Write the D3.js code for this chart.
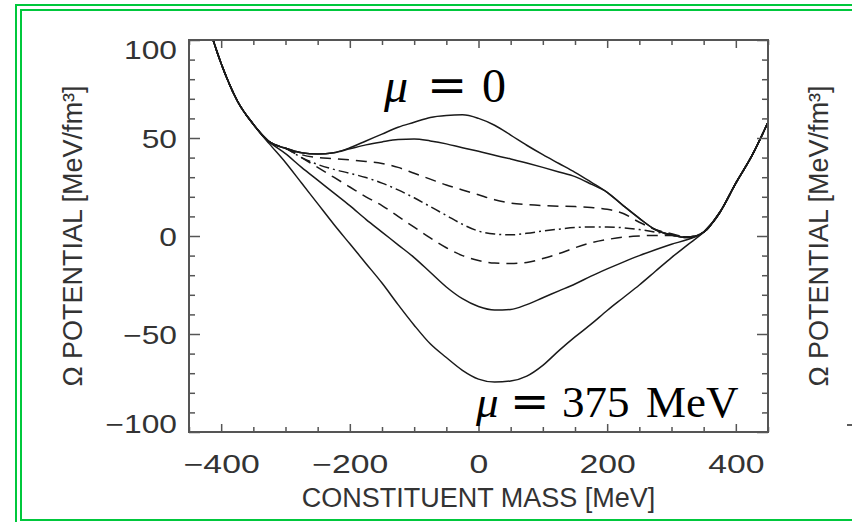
<!DOCTYPE html>
<html>
<head>
<meta charset="utf-8">
<script src="https://cdn.jsdelivr.net/npm/d3@7"></script>
<style>
  html, body { margin: 0; padding: 0; background: #fff; }
  svg { display: block; }
</style>
</head>
<body>
<svg id="chart" width="852" height="522"></svg>
<script>
// Constituent mass grid [MeV]
const mass = [-425, -400, -375, -350, -325, -300, -275, -250, -225, -200, -175, -150,
              -125, -100, -75, -50, -25, 0, 25, 50, 75, 100, 125, 150,
              175, 200, 225, 250, 275, 300, 325, 350, 375, 400, 425, 450];

// Omega potential [MeV/fm^3], one array per chemical potential (mu = 0 ... 375 MeV)
const omegaMu0 = [113, 88, 69, 57, 48, 44.8, 42.5, 41.8, 42.5, 45, 48.5, 52,
                  55.5, 58, 60.5, 61.5, 61.8, 60, 56.5, 51.5, 46.3, 41.5, 37, 32.5,
                  27.5, 22.3, 15.5, 9, 3.2, 0.5, -0.8, 2, 12, 27, 41, 58];
const omegaMu1 = [113, 88, 69, 57, 48, 44.8, 42.5, 41.8, 42.5, 44.5, 46.5, 48,
                  49.2, 49.5, 48.5, 47, 45, 43.2, 41.2, 39.3, 37.2, 35, 32.7, 30.3,
                  26.5, 22.3, 15.5, 9, 3.2, 0.5, -0.8, 2, 12, 27, 41, 58];
const omegaMu2 = [113, 88, 69, 57, 48, 44.8, 41.5, 40, 39.5, 38.8, 38, 37,
                  35, 32, 29, 26, 23.5, 21, 18.5, 16.8, 16, 15.5, 15.2, 15,
                  14.5, 13.6, 11.5, 7, 3.3, 1.2, -0.5, 2, 12, 27, 41, 58];
const omegaMu3 = [113, 88, 69, 57, 48, 44.8, 40, 36.5, 34, 32, 29.8, 27,
                  23.5, 19.5, 15, 10.5, 6, 2.5, 1, 0.6, 1.4, 2.5, 3.5, 4.3,
                  4.6, 4.6, 4.2, 3.3, 2, 0.8, -0.5, 2, 12, 27, 41, 58];
const omegaMu4 = [113, 88, 69, 57, 48, 44.8, 40, 35, 30, 25, 20, 15.5,
                  10, 4.5, -1, -6, -10, -12.5, -13.8, -14, -13.5, -11.5, -9, -6,
                  -3.5, -1.8, -0.6, 0, 0.3, 0.2, -0.5, 2, 12, 27, 41, 58];
const omegaMu5 = [113, 88, 69, 57, 48, 42, 35, 28.5, 22, 15.5, 8.5, 2,
                  -4.5, -11, -18.5, -26, -32, -36, -37.8, -37.5, -35, -31.5, -28, -24.5,
                  -20.5, -16.8, -13.3, -10, -7, -4.2, -1.8, 2, 12, 27, 41, 58];
const omegaMu375 = [113, 88, 69, 57, 47, 37.5, 27, 16.5, 6, -4, -14, -24,
                    -35, -45.5, -55, -62, -68.5, -73, -74.5, -74, -71.5, -66, -58.5, -51.5,
                    -45, -38, -31.5, -25, -18, -11, -4.5, 2, 12, 27, 41, 58];

// Axis ticks
const massTicks = [-400, -200, 0, 200, 400];
const massMinorStep = 50;
const potentialTicks = [-100, -50, 0, 50, 100];
const potentialMinorStep = 10;

const massDomain = [-450, 450];
const potentialDomain = [-100, 100];

const series = [
  { values: omegaMu0,   dash: null },
  { values: omegaMu1,   dash: null },
  { values: omegaMu2,   dash: "11,7" },
  { values: omegaMu3,   dash: "10,4,2,4" },
  { values: omegaMu4,   dash: "11,7" },
  { values: omegaMu5,   dash: null },
  { values: omegaMu375, dash: null }
];

const svg = d3.select("#chart");

// double green frame
const green = "#00c83c";
svg.append("rect").attr("x", 16).attr("y", 5).attr("width", 900).attr("height", 530)
  .attr("fill", "none").attr("stroke", green).attr("stroke-width", 2);
svg.append("rect").attr("x", 21).attr("y", 10).attr("width", 900).attr("height", 510)
  .attr("fill", "none").attr("stroke", green).attr("stroke-width", 2);

const plot = { left: 189, right: 768, top: 40, bottom: 432 };
const x = d3.scaleLinear().domain(massDomain).range([plot.left, plot.right]);
const y = d3.scaleLinear().domain(potentialDomain).range([plot.bottom, plot.top]);

const axisColor = "#555";
const textColor = "#333";

// clip for curves
svg.append("defs").append("clipPath").attr("id", "plotClip")
  .append("rect")
  .attr("x", plot.left).attr("y", plot.top)
  .attr("width", plot.right - plot.left).attr("height", plot.bottom - plot.top);

// curves
const line = d3.line()
  .x((d, i) => x(mass[i]))
  .y(d => y(d))
  .curve(d3.curveMonotoneX);

const curves = svg.append("g").attr("clip-path", "url(#plotClip)");
series.forEach(s => {
  curves.append("path")
    .attr("d", line(s.values))
    .attr("fill", "none")
    .attr("stroke", "#1a1a1a")
    .attr("stroke-width", 1.5)
    .attr("stroke-dasharray", s.dash);
});

// minor / major tick helpers (ticks point inward on all four sides)
function minorValues(domain, step, majors) {
  const out = [];
  for (let v = Math.ceil(domain[0] / step) * step; v <= domain[1]; v += step) {
    if (!majors.includes(v)) out.push(v);
  }
  return out;
}
const massMinor = minorValues(massDomain, massMinorStep, massTicks);
const potMinor = minorValues(potentialDomain, potentialMinorStep, potentialTicks);

function drawTicks(axisFn, scale, values, size, transform) {
  const g = svg.append("g").attr("transform", transform)
    .call(axisFn(scale).tickValues(values).tickSize(-size).tickFormat(""));
  g.select(".domain").remove();
  g.selectAll(".tick line").attr("stroke", axisColor).attr("stroke-width", 1.5);
  return g;
}
drawTicks(d3.axisBottom, x, massTicks, 8, `translate(0,${plot.bottom})`);
drawTicks(d3.axisBottom, x, massMinor, 5, `translate(0,${plot.bottom})`);
drawTicks(d3.axisTop, x, massTicks, 8, `translate(0,${plot.top})`);
drawTicks(d3.axisTop, x, massMinor, 5, `translate(0,${plot.top})`);
drawTicks(d3.axisLeft, y, potentialTicks, 11, `translate(${plot.left},0)`);
drawTicks(d3.axisLeft, y, potMinor, 6, `translate(${plot.left},0)`);
drawTicks(d3.axisRight, y, potentialTicks, 11, `translate(${plot.right},0)`);
drawTicks(d3.axisRight, y, potMinor, 6, `translate(${plot.right},0)`);

// frame
svg.append("rect")
  .attr("x", plot.left).attr("y", plot.top)
  .attr("width", plot.right - plot.left).attr("height", plot.bottom - plot.top)
  .attr("fill", "none").attr("stroke", axisColor).attr("stroke-width", 2);

// tick labels (wide vector-style digits)
const fmt = d3.format("d");
const labelFont = "'Liberation Sans', Arial, sans-serif";

const xLab = svg.append("g").attr("transform", `translate(0,${plot.bottom})`)
  .call(d3.axisBottom(x).tickValues(massTicks).tickSize(0).tickFormat(fmt));
xLab.select(".domain").remove();
xLab.selectAll(".tick text")
  .attr("font-family", labelFont).attr("font-size", 25).attr("fill", textColor)
  .attr("x", 0).attr("y", 0).attr("dy", null)
  .attr("text-anchor", "middle")
  .attr("transform", "translate(0,41) scale(1.35,1)");

const yLab = svg.append("g").attr("transform", `translate(${plot.left},0)`)
  .call(d3.axisLeft(y).tickValues(potentialTicks).tickSize(0).tickFormat(fmt));
yLab.select(".domain").remove();
yLab.selectAll(".tick text")
  .attr("font-family", labelFont).attr("font-size", 25).attr("fill", textColor)
  .attr("x", 0).attr("y", 0).attr("dy", null)
  .attr("text-anchor", "end")
  .attr("transform", d => {
    const shift = d === potentialDomain[1] ? 9 : d === potentialDomain[0] ? -9 : 0;
    return `translate(-12,${shift + 9}) scale(1.27,1)`;
  });

// axis titles
const yTitle = "Ω POTENTIAL [MeV/fm³]";
svg.append("text")
  .attr("transform", `translate(82,${(plot.top + plot.bottom) / 2}) rotate(-90)`)
  .attr("text-anchor", "middle")
  .attr("font-family", labelFont).attr("font-size", 27).attr("fill", textColor)
  .text(yTitle);
svg.append("text")
  .attr("transform", `translate(828,${(plot.top + plot.bottom) / 2}) rotate(-90)`)
  .attr("text-anchor", "middle")
  .attr("font-family", labelFont).attr("font-size", 27).attr("fill", textColor)
  .text(yTitle);
svg.append("text")
  .attr("x", (plot.left + plot.right) / 2).attr("y", 507)
  .attr("text-anchor", "middle")
  .attr("font-family", labelFont).attr("font-size", 27).attr("fill", textColor)
  .text("CONSTITUENT MASS [MeV]");

// edge of the neighbouring panel's minus sign
svg.append("line")
  .attr("x1", 847).attr("x2", 852).attr("y1", 425).attr("y2", 425)
  .attr("stroke", textColor).attr("stroke-width", 1.6);

// curve annotations: italic mu, equals sign, then the value pieces
function muLabel(baseline, size, eqSize, pieces) {
  const t = svg.append("text").attr("y", baseline).attr("fill", "#000")
    .attr("font-family", "'Liberation Serif', 'Times New Roman', serif")
    .attr("font-size", size);
  pieces.forEach(p => {
    const s = t.append("tspan").attr("x", p.x).text(p.text);
    if (p.italic) s.attr("font-style", "italic");
    if (p.text === "=") s.attr("font-family", "'DejaVu Serif', serif").attr("font-size", eqSize);
  });
}
muLabel(102, 48, 48, [
  { x: 384, text: "μ", italic: true },
  { x: 427, text: "=" },
  { x: 482, text: "0" }
]);
muLabel(417, 45, 47, [
  { x: 476, text: "μ", italic: true },
  { x: 510, text: "=" },
  { x: 562, text: "375" },
  { x: 646, text: "MeV" }
]);
</script>
</body>
</html>
